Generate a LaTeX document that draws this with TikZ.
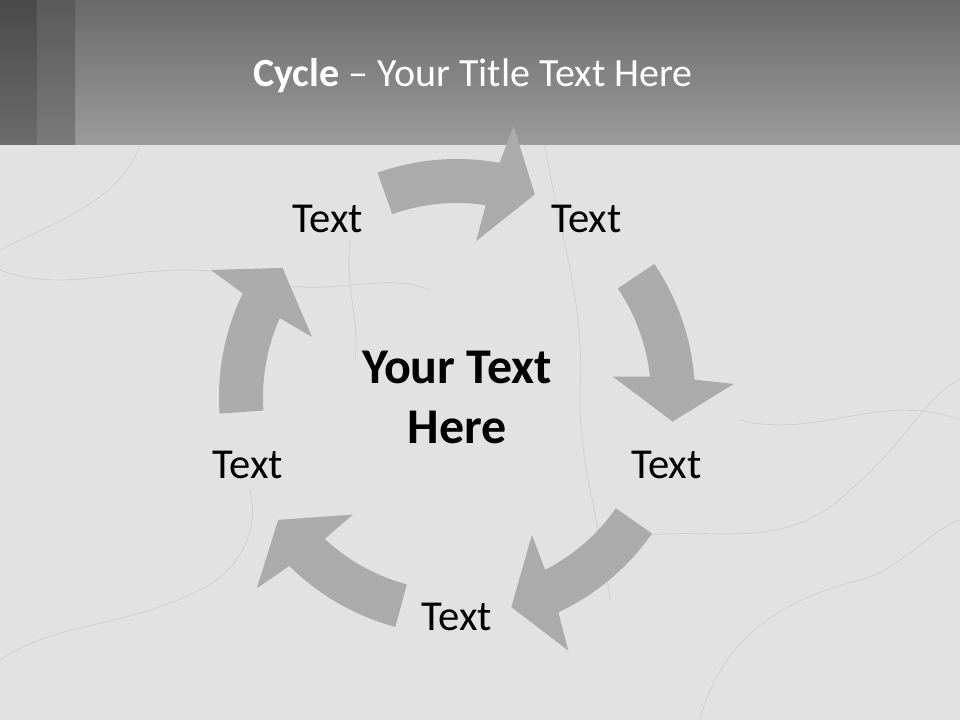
\documentclass[tikz,border=0pt]{standalone}
\usepackage{fontspec}
\setmainfont{Carlito}
\usetikzlibrary{positioning}
\definecolor{marble}{HTML}{E2E2E2}
\definecolor{vein}{HTML}{CDCDCD}
\definecolor{bannertop}{HTML}{6A6A6A}
\definecolor{bannerbottom}{HTML}{9B9B9B}
\definecolor{stripeatop}{HTML}{4A4A4A}
\definecolor{stripeabottom}{HTML}{6C6C6C}
\definecolor{stripebtop}{HTML}{5A5A5A}
\definecolor{stripebbottom}{HTML}{7A7A7A}
\definecolor{arrowgrey}{HTML}{ABABAB}
\tikzset{cyclearrow/.style={fill=arrowgrey},
	marblevein/.style={draw=vein, line width=0.5pt},
	steplabel/.style={font=\fontsize{32}{38}\selectfont, text=black, inner sep=0pt},
	hubtext/.style={font=\bfseries\fontsize{37.5}{45}\selectfont, align=center, inner sep=0pt},
	titletext/.style={font=\fontsize{30}{36}\selectfont, text=white, anchor=base}}

\begin{document}
\begin{tikzpicture}[x=0.75pt,y=0.75pt]
	\useasboundingbox (0,0) rectangle (960,720);
	\fill[marble] (0,0) rectangle (960,720);
	\draw[marblevein] (545,575) .. controls (560,480) and (585,420) .. (580,330) .. controls (578,260) and (600,200) .. (610,120);
	\draw[marblevein] (0,450) .. controls (80,420) and (150,470) .. (260,440) .. controls (330,420) and (380,450) .. (430,430);
	\draw[marblevein] (140,575) .. controls (120,520) and (60,500) .. (0,470);
	\draw[marblevein] (960,300) .. controls (880,330) and (820,280) .. (740,300);
	\draw[marblevein] (700,0) .. controls (720,80) and (780,120) .. (860,140) .. controls (900,150) and (930,190) .. (960,200);
	\draw[marblevein] (0,60) .. controls (60,100) and (120,90) .. (200,130) .. controls (240,150) and (260,190) .. (250,230);
	\draw[marblevein] (350,480) .. controls (345,430) and (360,400) .. (355,360);
	\draw[marblevein] (620,180) .. controls (700,200) and (780,160) .. (850,230) .. controls (900,270) and (930,330) .. (960,340);
	\shade[top color=bannertop, bottom color=bannerbottom] (0,575) rectangle (960,720);
	\shade[top color=stripeatop, bottom color=stripeabottom] (0,575) rectangle (37,720);
	\shade[top color=stripebtop, bottom color=stripebbottom] (37,575) rectangle (75,720);
	\node[titletext] (title) at (473,633) {\textbf{Cycle} -- Your Title Text Here};
	\begin{scope}[shift={(457,323)}]
		\foreach \a in {89.5,14,-55,-125,164}
			\fill[cyclearrow] (\a+20:238) arc[start angle=\a+20, end angle=\a-9.8, radius=238]
				-- (\a-11.3:277) -- (\a-20.5:217) -- (\a-6.5:157) -- (\a-8:194)
				arc[start angle=\a-8, end angle=\a+20, radius=194] -- cycle;
		\node[hubtext] (hub) at (0,0) {Your Text\\Here};
		\foreach \a/\n in {126/1,54/2,-18/3,-90/4,-162/5}
			\node[steplabel] (step\n) at (\a:220) {Text};
	\end{scope}
\end{tikzpicture}
\end{document}
